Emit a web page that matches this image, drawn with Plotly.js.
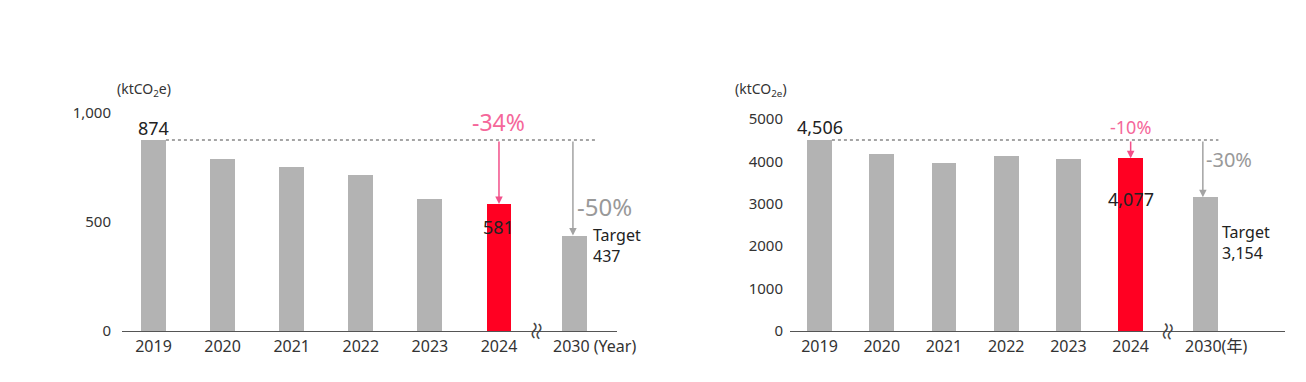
<!DOCTYPE html>
<html><head><meta charset="utf-8">
<script src="https://cdn.plot.ly/plotly-3.0.1.min.js"></script>
<style>html,body{margin:0;padding:0;background:#fff}#chart{width:1306px;height:382px}</style>
</head><body><div id="chart"></div>
<script>
// ---- data ----
const years = ['2019', '2020', '2021', '2022', '2023', '2024', '2030'];
const scope12 = [874, 787, 751, 714, 604, 581, 437];
const scope3 = [4506, 4176, 3963, 4128, 4058, 4077, 3154];
const leftYTicks = [0, 500, 1000];
const leftYTickText = ['0', '500', '1,000'];
const rightYTicks = [0, 1000, 2000, 3000, 4000, 5000];
const rightYTickText = ['0', '1000', '2000', '3000', '4000', '5000'];
const leftReduction = ['-34%', '-50%'];
const rightReduction = ['-10%', '-30%'];
const leftValueText = ['874', '581', '437'];
const rightValueText = ['4,506', '4,077', '3,154'];
const targetWord = 'Target';
const leftYearSuffix = '(Year)';
const rightYearSuffix = '(年)';
const unitLeft = '(ktCO<sub>2</sub>e)';
const unitRight = '(ktCO<sub>2e</sub>)';

// ---- styling ----
const FONT = 'Noto Sans, Noto Sans CJK JP, sans-serif';
const GRAY = '#b3b3b3', RED = '#ff0022', PINK = '#f2508a', PINKTXT = '#f5679a', ARROWGRAY = '#a3a3a3', TXT = '#333';
const hi = 5; // highlighted (2024)

const posL = years.map((y, i) => i < 6 ? i : 6.09);
const posR = years.map((y, i) => i < 6 ? i : 6.2);
const colors = years.map((y, i) => i === hi ? RED : GRAY);
// the last (target-year) tick label is drawn together with its unit suffix below
const tickTxt = years.map((y, i) => i < 6 ? y : '');

const traces = [
  {type: 'bar', x: posL, y: scope12, marker: {color: colors}, width: 0.36, xaxis: 'x', yaxis: 'y', hoverinfo: 'skip', cliponaxis: false},
  {type: 'bar', x: posR, y: scope3, marker: {color: colors}, width: 0.40, xaxis: 'x2', yaxis: 'y2', hoverinfo: 'skip', cliponaxis: false}
];

const W = 1306, H = 382;
const px = v => v / W, py = v => 1 - v / H;

const xBase = {showline: true, linecolor: '#555', linewidth: 1, ticks: '', showgrid: false, zeroline: false,
  tickfont: {family: FONT, size: 16, color: TXT}, fixedrange: true, ticklabelstandoff: 1};
const yBase = {showline: false, ticks: '', showgrid: false, zeroline: false,
  tickfont: {family: FONT, size: 15, color: TXT}, fixedrange: true};

const layout = {
  width: W, height: H, margin: {l: 0, r: 0, t: 0, b: 0},
  paper_bgcolor: '#fff', plot_bgcolor: 'rgba(0,0,0,0)', showlegend: false, bargap: 0,
  font: {family: FONT, color: TXT},
  xaxis: Object.assign({}, xBase, {domain: [px(122), px(617)], range: [-0.456, 6.708], tickvals: posL, ticktext: tickTxt, anchor: 'y'}),
  yaxis: Object.assign({}, yBase, {domain: [py(331), py(112.5)], range: [0, 1000], tickvals: leftYTicks, ticktext: leftYTickText, anchor: 'x', ticklabelstandoff: 10}),
  xaxis2: Object.assign({}, xBase, {domain: [px(790), px(1285)], range: [-0.474, 7.48], tickvals: posR, ticktext: tickTxt, anchor: 'y2'}),
  yaxis2: Object.assign({}, yBase, {domain: [py(331), py(119)], range: [0, 5000], tickvals: rightYTicks, ticktext: rightYTickText, anchor: 'x2', ticklabelstandoff: 6}),
  shapes: [
    {type: 'line', xref: 'x', yref: 'y', x0: posL[0] + 0.18, x1: posL[6] + 0.34, y0: scope12[0], y1: scope12[0],
     line: {color: '#888', width: 1.5, dash: '3px,3px'}},
    {type: 'line', xref: 'x2', yref: 'y2', x0: posR[0] + 0.2, x1: posR[6] + 0.21, y0: scope3[0], y1: scope3[0],
     line: {color: '#888', width: 1.5, dash: '3px,3px'}}
  ],
  annotations: []
};

const A = layout.annotations;
// unit labels
A.push({xref: 'paper', yref: 'paper', x: px(115), y: py(90), xanchor: 'left', yanchor: 'middle', showarrow: false,
  text: unitLeft, font: {family: FONT, size: 14, color: TXT}});
A.push({xref: 'paper', yref: 'paper', x: px(733), y: py(90), xanchor: 'left', yanchor: 'middle', showarrow: false,
  text: unitRight, font: {family: FONT, size: 14, color: TXT}});

// ---- left chart ----
A.push({xref: 'x', yref: 'y', x: posL[0], y: scope12[0], yanchor: 'bottom', yshift: -2, showarrow: false,
  text: leftValueText[0], font: {family: FONT, size: 18, color: '#222'}});
A.push({xref: 'x', yref: 'y', x: posL[hi], y: scope12[0], yanchor: 'bottom', yshift: 0, showarrow: false,
  text: leftReduction[0], font: {family: FONT, size: 23, color: PINKTXT}});
A.push({xref: 'x', yref: 'y', x: posL[hi], y: scope12[hi], axref: 'x', ayref: 'y', ax: posL[hi], ay: scope12[0],
  showarrow: true, arrowhead: 2, arrowsize: 1, arrowwidth: 1.5, arrowcolor: PINK, standoff: 0, text: ''});
A.push({xref: 'x', yref: 'y', x: posL[hi], y: scope12[hi], yanchor: 'top', yshift: -9, showarrow: false,
  text: leftValueText[1], font: {family: FONT, size: 18, color: '#222'}});
A.push({xref: 'x', yref: 'y', x: posL[6] - 0.02, y: scope12[6], axref: 'x', ayref: 'y', ax: posL[6] - 0.02, ay: scope12[0],
  showarrow: true, arrowhead: 2, arrowsize: 1, arrowwidth: 1.5, arrowcolor: ARROWGRAY, standoff: 0, text: ''});
A.push({xref: 'x', yref: 'y', x: posL[6], y: (scope12[0] + scope12[6]) / 2, xanchor: 'left', yanchor: 'middle', xshift: 1, yshift: -19,
  showarrow: false, text: leftReduction[1], font: {family: FONT, size: 24, color: '#999'}});
A.push({xref: 'x', yref: 'y', x: posL[6], y: scope12[6], xanchor: 'left', yanchor: 'middle', xshift: 17, yshift: -10,
  showarrow: false, align: 'left', text: targetWord + '<br>' + leftValueText[2], font: {family: FONT, size: 16, color: '#222'}});
A.push({xref: 'x', yref: 'paper', x: (posL[5] + posL[6]) / 2, y: py(331), xanchor: 'center', yanchor: 'middle', showarrow: false,
  text: '≈', textangle: 100, font: {family: FONT, size: 21, color: '#444'}});
A.push({xref: 'x', yref: 'paper', x: posL[6], y: py(346), xanchor: 'left', yanchor: 'middle', xshift: -23, showarrow: false,
  text: years[6] + ' ' + leftYearSuffix, font: {family: FONT, size: 16, color: TXT}});

// ---- right chart ----
A.push({xref: 'x2', yref: 'y2', x: posR[0], y: scope3[0], yanchor: 'bottom', yshift: -1, showarrow: false,
  text: rightValueText[0], font: {family: FONT, size: 18, color: '#222'}});
A.push({xref: 'x2', yref: 'y2', x: posR[hi], y: scope3[0], yanchor: 'bottom', yshift: -1, showarrow: false,
  text: rightReduction[0], font: {family: FONT, size: 18, color: PINKTXT}});
A.push({xref: 'x2', yref: 'y2', x: posR[hi], y: scope3[hi], axref: 'x2', ayref: 'y2', ax: posR[hi], ay: scope3[0],
  showarrow: true, arrowhead: 2, arrowsize: 1, arrowwidth: 1.5, arrowcolor: PINK, standoff: 0, text: ''});
A.push({xref: 'x2', yref: 'y2', x: posR[hi], y: scope3[hi], yanchor: 'top', yshift: -27, showarrow: false,
  text: rightValueText[1], font: {family: FONT, size: 18, color: '#222'}});
A.push({xref: 'x2', yref: 'y2', x: posR[6] - 0.04, y: scope3[6], axref: 'x2', ayref: 'y2', ax: posR[6] - 0.04, ay: scope3[0],
  showarrow: true, arrowhead: 2, arrowsize: 1, arrowwidth: 1.5, arrowcolor: ARROWGRAY, standoff: 0, text: ''});
A.push({xref: 'x2', yref: 'y2', x: posR[6], y: (scope3[0] + scope3[6]) / 2, xanchor: 'left', yanchor: 'middle', xshift: -1, yshift: 9,
  showarrow: false, text: rightReduction[1], font: {family: FONT, size: 20, color: '#999'}});
A.push({xref: 'x2', yref: 'y2', x: posR[6], y: scope3[6], xanchor: 'left', yanchor: 'middle', xshift: 15, yshift: -45,
  showarrow: false, align: 'left', text: targetWord + '<br>' + rightValueText[2], font: {family: FONT, size: 16, color: '#222'}});
A.push({xref: 'x2', yref: 'paper', x: (posR[5] + posR[6]) / 2, y: py(331), xanchor: 'center', yanchor: 'middle', showarrow: false,
  text: '≈', textangle: 100, font: {family: FONT, size: 21, color: '#444'}});
A.push({xref: 'x2', yref: 'paper', x: posR[6], y: py(346), xanchor: 'left', yanchor: 'middle', xshift: -22, showarrow: false,
  text: years[6] + rightYearSuffix, font: {family: FONT, size: 16, color: TXT}});

Plotly.newPlot('chart', traces, layout, {displayModeBar: false, staticPlot: true});
</script>
</body></html>
